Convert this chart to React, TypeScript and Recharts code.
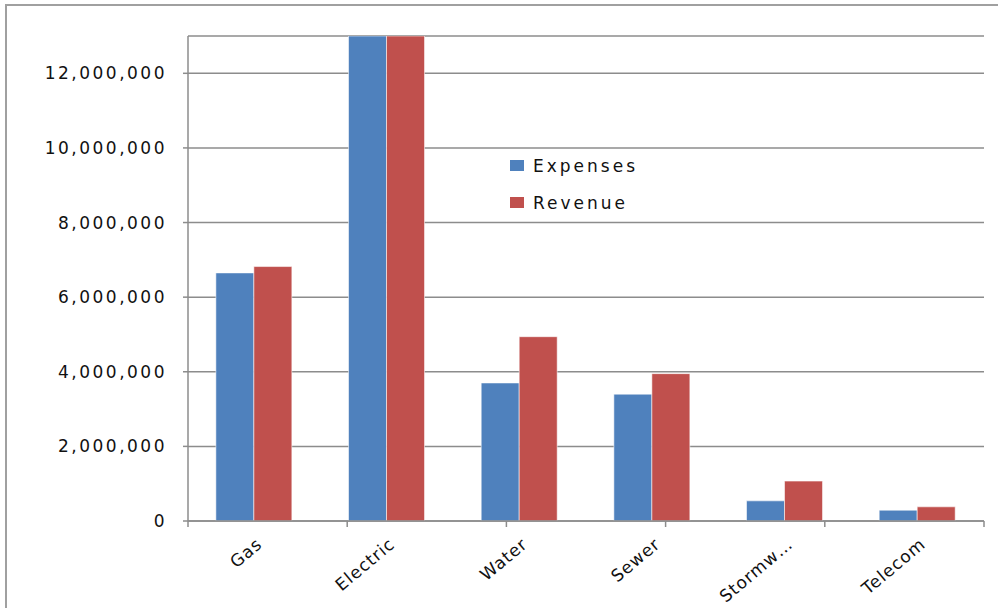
import React from 'react';
import { BarChart, Bar, XAxis, YAxis, CartesianGrid, Legend } from 'recharts';

const categories = ['Gas', 'Electric', 'Water', 'Sewer', 'Stormw…', 'Telecom'];
const expenses = [6650000, 13000000, 3700000, 3400000, 540000, 290000];
const revenue = [6820000, 13000000, 4940000, 3950000, 1070000, 380000];
const yTicks = [0, 2000000, 4000000, 6000000, 8000000, 10000000, 12000000];
const boundaryTicks = [0, 1, 2, 3, 4, 5, 6];

const data = categories.map((name, i) => ({ name, expenses: expenses[i], revenue: revenue[i] }));

const FONT = '"DejaVu Sans", Verdana, sans-serif';
const BLUE = '#4F81BD';
const RED = '#C0504D';
const GRID = '#8c8c8c';

const CategoryTick = (props: any) => {
  const { x, y, payload } = props;
  const ax = x + 9;
  const ay = y + 16;
  return (
    <text
      x={ax}
      y={ay}
      transform={`rotate(-40, ${ax}, ${ay})`}
      textAnchor="end"
      fontFamily={FONT}
      fontSize={17}
      letterSpacing={1}
      fill="#111"
    >
      {payload.value}
    </text>
  );
};

const LegendBox = () => (
  <div style={{ fontFamily: FONT, fontSize: 17, letterSpacing: 3, color: '#111' }}>
    {[
      { label: 'Expenses', color: BLUE },
      { label: 'Revenue', color: RED },
    ].map((item) => (
      <div key={item.label} style={{ display: 'flex', alignItems: 'center', height: 37 }}>
        <span style={{ width: 14, height: 11, background: item.color, marginRight: 9, display: 'inline-block' }} />
        <span>{item.label}</span>
      </div>
    ))}
  </div>
);

export default function App() {
  return (
    <div style={{ position: 'fixed', left: 0, top: 0, width: 998, height: 608, overflow: 'hidden', background: '#fff' }}>
      <div
        style={{
          position: 'absolute',
          left: 5,
          top: 4,
          width: 1010,
          height: 640,
          borderLeft: '2px solid #a0a0a0',
          borderTop: '2px solid #a0a0a0',
          boxSizing: 'border-box',
        }}
      />
      <div style={{ position: 'absolute', left: 0, top: 0 }}>
        <BarChart
          width={998}
          height={608}
          data={data}
          margin={{ top: 36, right: 14, bottom: 26, left: 0 }}
          barGap={0}
          barCategoryGap="21%"
        >
          <CartesianGrid vertical={false} stroke={GRID} strokeWidth={1.5} />
          <XAxis
            xAxisId="bounds"
            type="number"
            domain={[0, 6]}
            ticks={boundaryTicks}
            height={1}
            tickFormatter={() => ''}
            tickSize={6}
            stroke={GRID}
            strokeWidth={1.5}
          />
          <XAxis
            xAxisId="cat"
            dataKey="name"
            height={60}
            axisLine={false}
            tickLine={false}
            interval={0}
            tick={<CategoryTick />}
          />
          <YAxis
            width={188}
            domain={[0, 13000000]}
            ticks={yTicks}
            allowDataOverflow
            tickFormatter={(v: number) => v.toLocaleString('en-US')}
            tickSize={5}
            tickMargin={16}
            stroke={GRID}
            strokeWidth={1.5}
            tick={{ fontFamily: FONT, fontSize: 17, fill: '#111', letterSpacing: 2.5 }}
          />
          <Legend
            layout="vertical"
            align="center"
            verticalAlign="middle"
            content={<LegendBox />}
            wrapperStyle={{ left: 510, top: 147, width: 170 }}
          />
          <Bar xAxisId="cat" dataKey="expenses" fill={BLUE} stroke="rgba(255,255,255,0.55)" strokeWidth={1} isAnimationActive={false} />
          <Bar xAxisId="cat" dataKey="revenue" fill={RED} stroke="rgba(255,255,255,0.55)" strokeWidth={1} isAnimationActive={false} />
        </BarChart>
      </div>
    </div>
  );
}
